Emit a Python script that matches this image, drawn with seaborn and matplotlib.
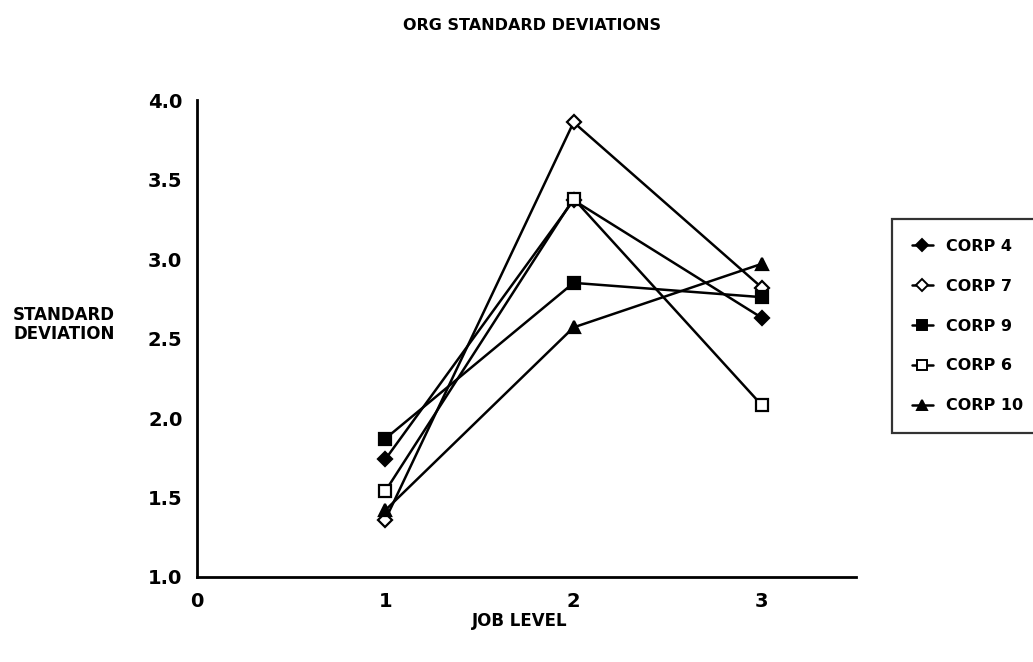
import matplotlib
matplotlib.use("Agg")
import matplotlib.pyplot as plt
import seaborn as sns
import pandas as pd
from matplotlib.lines import Line2D

# Standard deviation by job level for each corporation
job_levels = [1, 2, 3]
corps = ["CORP 4", "CORP 7", "CORP 9", "CORP 6", "CORP 10"]
corp4 = [1.74, 3.37, 2.63]
corp7 = [1.36, 3.86, 2.82]
corp9 = [1.87, 2.85, 2.76]
corp6 = [1.54, 3.38, 2.08]
corp10 = [1.42, 2.57, 2.97]

series = [corp4, corp7, corp9, corp6, corp10]
markers = ["D", "D", "s", "s", "^"]
filled = [True, False, True, False, True]
msizes = [7, 7, 8, 8, 8]

rows = []
for name, vals in zip(corps, series):
    for lvl, v in zip(job_levels, vals):
        rows.append({"corp": name, "level": lvl, "sd": v})
df = pd.DataFrame(rows)

sns.set_theme(style="white")
plt.rcParams["font.family"] = ["DejaVu Sans"]
plt.rcParams["font.weight"] = "bold"
plt.rcParams["text.color"] = "black"
plt.rcParams["axes.labelcolor"] = "black"

fig = plt.figure(figsize=(10.33, 6.62), dpi=100)
ax = fig.add_axes([0.1907, 0.1284, 0.8287 - 0.1907, 0.8489 - 0.1284])

handles = []
for name, mk, fl, ms in zip(corps, markers, filled, msizes):
    sub = df[df["corp"] == name]
    sns.lineplot(data=sub, x="level", y="sd", ax=ax, color="black",
                 linewidth=1.8, marker=mk, markersize=ms,
                 markerfacecolor="black" if fl else "white",
                 markeredgecolor="black", markeredgewidth=1.6,
                 legend=False)
    handles.append(Line2D([], [], color="black", linewidth=1.8, marker=mk,
                          markersize=ms - 1,
                          markerfacecolor="black" if fl else "white",
                          markeredgecolor="black", markeredgewidth=1.4))

ax.set_xlim(0, 3.5)
ax.set_ylim(1.0, 4.0)
ax.set_xticks([0, 1, 2, 3])
ax.set_xticklabels(["0", "1", "2", "3"])
ax.set_yticks([1.0, 1.5, 2.0, 2.5, 3.0, 3.5, 4.0])
ax.set_yticklabels(["1.0", "1.5", "2.0", "2.5", "3.0", "3.5", "4.0"])

for side in ["top", "right"]:
    ax.spines[side].set_visible(False)
for side in ["left", "bottom"]:
    ax.spines[side].set_color("black")
    ax.spines[side].set_linewidth(2)

ax.tick_params(axis="both", direction="inout", length=9, width=1.6,
               colors="black", labelsize=14, pad=6)
ax.tick_params(axis="x", pad=6)
for lab in ax.get_xticklabels() + ax.get_yticklabels():
    lab.set_fontweight("bold")

ax.set_xlabel("")
ax.set_ylabel("")

fig.text(0.515, 0.962, "ORG STANDARD DEVIATIONS", ha="center", va="center",
         fontsize=11.5, fontweight="bold", color="black")
fig.text(0.062, 0.51, "STANDARD\nDEVIATION", ha="center", va="center",
         fontsize=12, fontweight="bold", linespacing=1.1, color="black")
fig.text(0.503, 0.062, "JOB LEVEL", ha="center", va="center",
         fontsize=12, fontweight="bold", color="black")

leg = fig.legend(handles, corps, loc="upper left",
                 bbox_to_anchor=(0.8635, 0.669), frameon=True,
                 fancybox=False, edgecolor="black", handlelength=1.3,
                 handletextpad=0.8, labelspacing=1.55, borderpad=1.25,
                 borderaxespad=0, prop={"size": 11.5, "weight": "bold"})
leg.get_frame().set_linewidth(1.6)
for t in leg.get_texts():
    t.set_color("black")

fig.savefig("out.png", dpi=100, facecolor="white")
